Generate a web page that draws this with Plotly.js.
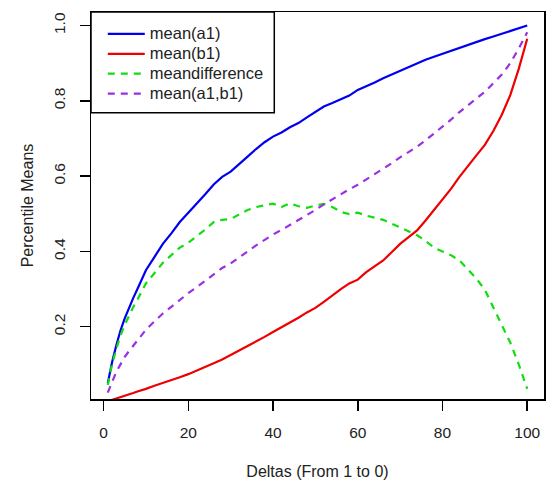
<!DOCTYPE html>
<html>
<head>
<meta charset="utf-8">
<script src="https://cdn.plot.ly/plotly-3.0.1.min.js"></script>
<style>
  html, body { margin: 0; padding: 0; background: #ffffff; }
  #chart { width: 551px; height: 483px; }
</style>
</head>
<body>
<div id="chart"></div>
<script>
// Deltas (x positions)
const deltas = [1,2,3,4,5,6,7,8,9,10,12,14,16,18,20,22,24,26,28,30,32,34,36,38,40,42,44,46,48,50,52,54,56,58,60,62,64,66,68,70,72,74,76,78,80,82,84,86,88,90,92,94,96,98,100];

const meanA1 = [0.05,0.105,0.15,0.19,0.222,0.25,0.276,0.30,0.325,0.35,0.385,0.42,0.448,0.478,0.503,0.527,0.552,0.578,0.598,0.612,0.633,0.652,0.672,0.69,0.705,0.716,0.73,0.741,0.756,0.77,0.785,0.794,0.803,0.814,0.829,0.838,0.849,0.86,0.87,0.881,0.891,0.90,0.909,0.917,0.925,0.933,0.942,0.949,0.957,0.964,0.971,0.978,0.985,0.993,1.0];

const meanB1 = [0.002,0.006,0.01,0.013,0.017,0.02,0.024,0.028,0.031,0.035,0.043,0.05,0.058,0.066,0.074,0.083,0.093,0.103,0.113,0.124,0.137,0.149,0.16,0.173,0.186,0.198,0.211,0.224,0.238,0.25,0.266,0.284,0.30,0.315,0.325,0.345,0.36,0.376,0.398,0.42,0.438,0.456,0.482,0.51,0.54,0.566,0.598,0.625,0.655,0.683,0.72,0.763,0.815,0.885,0.965];

const meanDifference = [0.045,0.10,0.14,0.177,0.205,0.23,0.252,0.272,0.294,0.315,0.342,0.37,0.39,0.41,0.423,0.44,0.458,0.478,0.484,0.486,0.498,0.51,0.518,0.522,0.527,0.518,0.528,0.52,0.516,0.522,0.526,0.518,0.505,0.499,0.503,0.495,0.49,0.484,0.474,0.463,0.452,0.443,0.428,0.41,0.40,0.39,0.376,0.352,0.328,0.298,0.25,0.205,0.158,0.10,0.035];

const meanA1B1 = [0.025,0.055,0.08,0.10,0.12,0.135,0.15,0.164,0.178,0.192,0.214,0.235,0.253,0.272,0.289,0.305,0.322,0.34,0.356,0.368,0.385,0.40,0.416,0.431,0.445,0.457,0.47,0.482,0.497,0.51,0.525,0.539,0.551,0.565,0.577,0.591,0.605,0.618,0.634,0.65,0.664,0.678,0.695,0.713,0.732,0.75,0.77,0.787,0.806,0.824,0.846,0.87,0.90,0.939,0.982];

const seriesNames = ["mean(a1)", "mean(b1)", "meandifference", "mean(a1,b1)"];
const xTicks = [0, 20, 40, 60, 80, 100];
const yTicks = [0.2, 0.4, 0.6, 0.8, 1.0];
const yTickText = ["0.2", "0.4", "0.6", "0.8", "1.0"];

const FONT = "Liberation Sans, Arial, Helvetica, sans-serif";
const dashPat = "7px,6px";
const legendLabel = (s) => '<span style="font-size:16.5px">' + s + '</span>';

const traces = [
  {x: deltas, y: meanA1, name: legendLabel(seriesNames[0]), mode: "lines", line: {color: "#0000ee", width: 2.2}},
  {x: deltas, y: meanB1, name: legendLabel(seriesNames[1]), mode: "lines", line: {color: "#ee0000", width: 2.2}},
  {x: deltas, y: meanDifference, name: legendLabel(seriesNames[2]), mode: "lines", line: {color: "#11dd11", width: 2.2, dash: dashPat}},
  {x: deltas, y: meanA1B1, name: legendLabel(seriesNames[3]), mode: "lines", line: {color: "#9a30e0", width: 2.2, dash: dashPat}}
];

const layout = {
  width: 551, height: 483,
  margin: {l: 91, r: 7, t: 12, b: 84},
  paper_bgcolor: "#ffffff",
  plot_bgcolor: "#ffffff",
  font: {family: FONT, color: "#222222", size: 15.5},
  showlegend: true,
  legend: {
    x: 0.026, y: 0.982, xanchor: "left", yanchor: "top",
    bgcolor: "rgba(0,0,0,0)", borderwidth: 0,
    font: {family: FONT, size: 13, color: "#222222"},
    tracegroupgap: 0, itemwidth: 37
  },
  shapes: [
    {type: "rect", xref: "paper", yref: "paper", x0: 0, x1: 0.4046, y0: 0.7398, y1: 1,
     line: {color: "#000000", width: 1.5}, fillcolor: "rgba(0,0,0,0)"}
  ],
  xaxis: {
    range: [-2.96, 103.96],
    tickvals: xTicks,
    ticktext: xTicks.map(String),
    ticks: "outside", ticklen: 10, tickwidth: 1.5, tickcolor: "#000000",
    ticklabelstandoff: 9,
    showline: true, mirror: true, linecolor: "#000000", linewidth: 1.5,
    showgrid: false, zeroline: false,
    tickfont: {family: FONT, size: 15.5, color: "#222222"},
    title: {text: "Deltas (From 1 to 0)", font: {family: FONT, size: 16, color: "#222222"}, standoff: 25}
  },
  yaxis: {
    range: [0.008, 1.036],
    tickvals: yTicks,
    ticktext: yTickText,
    tickangle: -90,
    ticks: "outside", ticklen: 10, tickwidth: 1.5, tickcolor: "#000000",
    ticklabelstandoff: 8,
    showline: true, mirror: true, linecolor: "#000000", linewidth: 1.5,
    showgrid: false, zeroline: false,
    tickfont: {family: FONT, size: 15.5, color: "#222222"},
    title: {text: "Percentile Means", font: {family: FONT, size: 16, color: "#222222"}, standoff: 13}
  }
};

Plotly.newPlot("chart", traces, layout, {displayModeBar: false, staticPlot: true});
</script>
</body>
</html>
